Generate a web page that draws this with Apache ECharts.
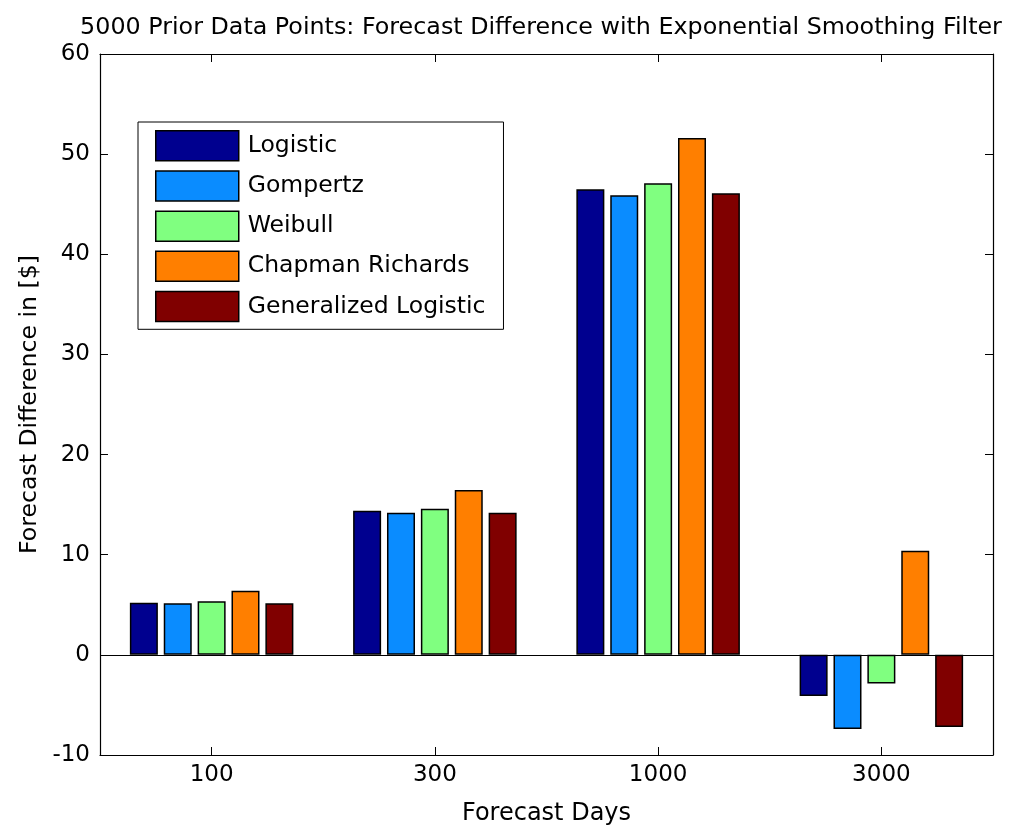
<!DOCTYPE html>
<html>
<head>
<meta charset="utf-8">
<script src="https://cdn.jsdelivr.net/npm/echarts@6/dist/echarts.min.js"></script>
<style>
  html, body { margin: 0; padding: 0; background: #fff; }
  #chart { width: 1010px; height: 831px; }
</style>
</head>
<body>
<div id="chart"></div>
<script>
// Forecast horizons (days)
const categories = ['100', '300', '1000', '3000'];

// Forecast difference in $ per growth model
const logistic        = [5.2, 14.4, 46.5, -4.1];
const gompertz        = [5.15, 14.2, 45.9, -7.4];
const weibull         = [5.35, 14.6, 47.1, -2.85];
const chapmanRichards = [6.4, 16.45, 51.6, 10.4];
const genLogistic     = [5.15, 14.2, 46.1, -7.2];

const seriesNames  = ['Logistic', 'Gompertz', 'Weibull', 'Chapman Richards', 'Generalized Logistic'];
const seriesValues = [logistic, gompertz, weibull, chapmanRichards, genLogistic];
const seriesColors = ['#00008f', '#0a8cff', '#80ff80', '#ff7f00', '#800000'];

const yTicks = { min: -10, max: 60, interval: 10 };

const FONT = 'DejaVu Sans';

const chart = echarts.init(document.getElementById('chart'), null, { renderer: 'canvas' });

const series = seriesNames.map((name, i) => {
  const s = {
    name: name,
    type: 'bar',
    data: seriesValues[i],
    barWidth: 28,
    barGap: '21%',
    itemStyle: { color: seriesColors[i], borderColor: '#000', borderWidth: 1.5 },
    emphasis: { disabled: true },
    animation: false
  };
  if (i === 0) {
    // bar baseline at zero
    s.markLine = {
      silent: true,
      symbol: 'none',
      label: { show: false },
      lineStyle: { color: '#000', width: 1.2, type: 'solid' },
      data: [{ yAxis: 0 }],
      animation: false
    };
  }
  return s;
});

const axisLineStyle = { show: true, onZero: false, lineStyle: { color: '#000', width: 1.2 } };

chart.setOption({
  backgroundColor: '#fff',
  animation: false,
  title: {
    text: '5000 Prior Data Points: Forecast Difference with Exponential Smoothing Filter',
    left: 536,
    textAlign: 'center',
    top: 11,
    textStyle: { fontFamily: FONT, fontSize: 23.8, fontWeight: 'normal', color: '#000' }
  },
  legend: {
    orient: 'vertical',
    left: 138,
    top: 122,
    itemWidth: 83,
    itemHeight: 30,
    itemGap: 8.7,
    padding: [8, 18, 7, 17],
    borderColor: '#000',
    borderWidth: 1,
    backgroundColor: '#fff',
    icon: 'rect',
    selectedMode: false,
    itemStyle: { borderColor: '#000', borderWidth: 1.5 },
    textStyle: { fontFamily: FONT, fontSize: 23.5, color: '#000', padding: [0, 0, 0, 4] },
    data: seriesNames
  },
  grid: { left: 100, right: 17, top: 54, bottom: 73 },
  xAxis: [
    {
      type: 'category',
      data: categories,
      position: 'bottom',
      axisLine: axisLineStyle,
      axisTick: { show: true, inside: true, length: 8, alignWithLabel: true, lineStyle: { color: '#000' } },
      axisLabel: { fontFamily: FONT, fontSize: 23, color: '#000', margin: 9 },
      name: 'Forecast Days',
      nameLocation: 'middle',
      nameGap: 47,
      nameTextStyle: { fontFamily: FONT, fontSize: 24, color: '#000' }
    },
    {
      type: 'category',
      data: categories,
      position: 'top',
      axisLine: axisLineStyle,
      axisTick: { show: true, inside: true, length: 8, alignWithLabel: true, lineStyle: { color: '#000' } },
      axisLabel: { show: false }
    }
  ],
  yAxis: [
    {
      type: 'value',
      min: yTicks.min,
      max: yTicks.max,
      interval: yTicks.interval,
      position: 'left',
      axisLine: axisLineStyle,
      axisTick: { show: true, inside: true, length: 8, lineStyle: { color: '#000' } },
      axisLabel: { fontFamily: FONT, fontSize: 23, color: '#000', margin: 10 },
      splitLine: { show: false },
      name: 'Forecast Difference in [$]',
      nameLocation: 'middle',
      nameGap: 58,
      nameTextStyle: { fontFamily: FONT, fontSize: 23.6, color: '#000' }
    },
    {
      type: 'value',
      min: yTicks.min,
      max: yTicks.max,
      interval: yTicks.interval,
      position: 'right',
      axisLine: axisLineStyle,
      axisTick: { show: true, inside: true, length: 8, lineStyle: { color: '#000' } },
      axisLabel: { show: false },
      splitLine: { show: false }
    }
  ],
  series: series
});
</script>
</body>
</html>
